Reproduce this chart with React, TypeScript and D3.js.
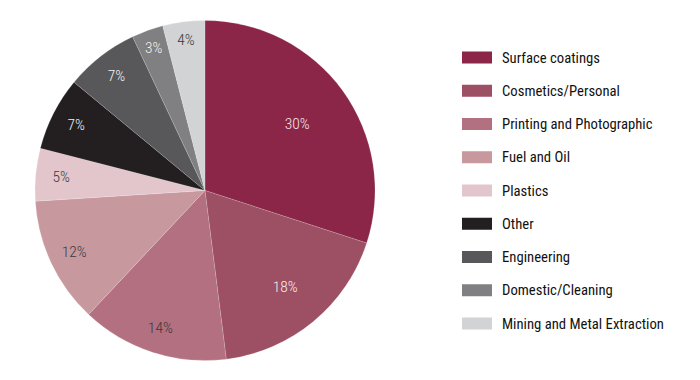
import React from "react";
import * as d3 from "d3";

const categories = [
  "Surface coatings",
  "Cosmetics/Personal",
  "Printing and Photographic",
  "Fuel and Oil",
  "Plastics",
  "Other",
  "Engineering",
  "Domestic/Cleaning",
  "Mining and Metal Extraction",
];
const values = [30, 18, 14, 12, 5, 7, 7, 3, 4];
const colors = [
  "#8B2649",
  "#9D5064",
  "#B27080",
  "#C8989F",
  "#E3C6CB",
  "#231F20",
  "#58585A",
  "#808083",
  "#D1D3D4",
];
const labelColors = [
  "#F6E6EB",
  "#F7ECEF",
  "#3A3A3A",
  "#3A3A3A",
  "#3A3A3A",
  "#F2F2F2",
  "#F2F2F2",
  "#F2F2F2",
  "#3A3A3A",
];

const W = 700;
const H = 380;
const cx = 205;
const cy = 190.5;
const R = 170;
const FONT = "'Roboto Condensed', 'Liberation Sans Narrow', 'Arial Narrow', 'Liberation Sans', Arial, sans-serif";

export default function App() {
  const pie = d3.pie<number>().sort(null).value((d) => d);
  const arcs = pie(values);
  const arc = d3.arc<d3.PieArcDatum<number>>().innerRadius(0).outerRadius(R);
  const total = d3.sum(values);

  const labelPos = (a: d3.PieArcDatum<number>) => {
    const frac = a.data / total;
    const k = frac >= 0.25 ? 0.67 : frac >= 0.15 ? 0.74 : frac < 0.045 ? 0.89 : 0.85;
    const mid = (a.startAngle + a.endAngle) / 2;
    return [Math.sin(mid) * R * k, -Math.cos(mid) * R * k];
  };

  const legendY = d3.scaleLinear().domain([0, categories.length - 1]).range([57.5, 323.5]);

  return (
    <svg
      width={W}
      height={H}
      style={{ position: "absolute", left: 0, top: 0, background: "#fff" }}
    >
      <g transform={`translate(${cx},${cy})`}>
        {arcs.map((a, i) => (
          <path key={i} d={arc(a) || ""} fill={colors[i]} stroke="#ffffff" strokeOpacity={0.25} strokeWidth={0.6} />
        ))}
        {arcs.map((a, i) => {
          const [x, y] = labelPos(a);
          return (
            <text
              key={"l" + i}
              x={x}
              y={y}
              textAnchor="middle"
              dominantBaseline="central"
              fontFamily={FONT}
              fontSize={15.5}
              fontWeight={300}
              fill={labelColors[i]}
            >
              {`${values[i]}%`}
            </text>
          );
        })}
      </g>
      <g>
        {categories.map((c, i) => (
          <g key={c} transform={`translate(0,${legendY(i)})`}>
            <rect x={462} y={-6} width={30} height={12} fill={colors[i]} />
            <text
              x={502}
              y={0}
              dominantBaseline="central"
              fontFamily={FONT}
              fontSize={14.7}
              fill="#111111"
            >
              {c}
            </text>
          </g>
        ))}
      </g>
    </svg>
  );
}
